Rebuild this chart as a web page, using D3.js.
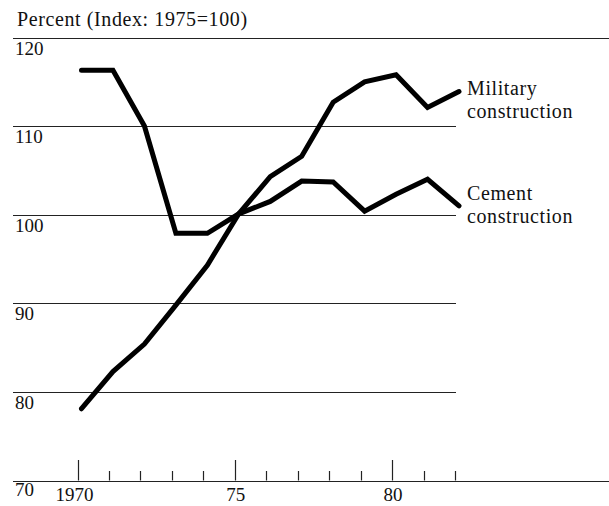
<!DOCTYPE html>
<html>
<head>
<meta charset="utf-8">
<script src="https://cdn.jsdelivr.net/npm/d3@7"></script>
<style>
    body { margin: 0; background: #fff; }
    svg { display: block; }
    text { font-family: "Liberation Serif", "Times New Roman", serif; fill: #111; }
</style>
</head>
<body>
<script>
//wrap everything in a self-executing anonymous function to move to local scope
(function(){

    //chart data
    var years = [1970, 1971, 1972, 1973, 1974, 1975, 1976, 1977, 1978, 1979, 1980, 1981, 1982];
    var military = [78.1, 82.3, 85.4, 89.8, 94.3, 100.1, 104.3, 106.6, 112.7, 115.0, 115.8, 112.1, 113.9];
    var cement = [116.3, 116.3, 110.0, 97.9, 97.9, 100.1, 101.5, 103.8, 103.7, 100.4, 102.3, 104.0, 101.0];
    var yTicks = [120, 110, 100, 90, 80, 70];
    var xLabels = {1970: "1970", 1975: "75", 1980: "80"};
    var seriesNames = [["Military", "construction"], ["Cement", "construction"]];

    setChart();

    function setChart(){
        //frame dimensions
        var width = 609,
            height = 506;

        var svg = d3.select("body")
            .append("svg")
            .attr("width", width)
            .attr("height", height);

        //scales
        var x = d3.scaleLinear()
            .domain([1970, 1982])
            .range([77.5, 455]);

        var y = d3.scaleLinear()
            .domain([70, 120])
            .range([480.5, 37.5]);

        //title
        svg.append("text")
            .attr("x", 17)
            .attr("y", 26)
            .style("font-size", "20px")
            .style("letter-spacing", "0.6px")
            .text("Percent (Index: 1975=100)");

        //horizontal rules, top one and the base run the full width
        svg.selectAll(".grid")
            .data(yTicks)
            .enter()
            .append("line")
            .attr("class", "grid")
            .attr("x1", 13)
            .attr("x2", function(d){ return (d == 120 || d == 70) ? width : 456; })
            .attr("y1", function(d){ return Math.round(y(d)) + 0.5; })
            .attr("y2", function(d){ return Math.round(y(d)) + 0.5; })
            .style("stroke", "#222")
            .style("stroke-width", 1.2);

        //y labels sit just under their rule
        svg.selectAll(".ylab")
            .data(yTicks)
            .enter()
            .append("text")
            .attr("class", "ylab")
            .attr("x", 15)
            .attr("y", function(d){ return y(d) + (d == 70 ? 15 : 17); })
            .style("font-size", "19px")
            .text(function(d){ return d; });

        //year ticks, taller every five years
        svg.selectAll(".xtick")
            .data(years)
            .enter()
            .append("line")
            .attr("class", "xtick")
            .attr("x1", function(d){ return Math.round(x(d)) + 0.5; })
            .attr("x2", function(d){ return Math.round(x(d)) + 0.5; })
            .attr("y1", function(d){ return d % 5 == 0 ? 460 : 471; })
            .attr("y2", y(70))
            .style("stroke", "#222")
            .style("stroke-width", 1.2);

        svg.selectAll(".xlab")
            .data(years.filter(function(d){ return xLabels[d]; }))
            .enter()
            .append("text")
            .attr("class", "xlab")
            .attr("x", function(d){ return x(d) - (d == 1970 ? 3 : -1); })
            .attr("y", 501)
            .attr("text-anchor", "middle")
            .style("font-size", "19px")
            .text(function(d){ return xLabels[d]; });

        //the two series
        var line = d3.line()
            .x(function(d, i){ return x(years[i]); })
            .y(function(d){ return y(d); });

        var lines = svg.append("g")
            .attr("transform", "translate(4,0)");

        lines.selectAll(".series")
            .data([military, cement])
            .enter()
            .append("path")
            .attr("class", "series")
            .attr("d", line)
            .style("fill", "none")
            .style("stroke", "#000")
            .style("stroke-width", 5)
            .style("stroke-linecap", "round")
            .style("stroke-linejoin", "miter");

        //series labels at the right end of each line
        var labelTop = [95, 200];
        seriesNames.forEach(function(name, k){
            var label = svg.append("text")
                .attr("x", 467)
                .attr("y", labelTop[k])
                .style("font-size", "20px")
                .style("letter-spacing", "0.6px");
            label.append("tspan").attr("x", 467).text(name[0]);
            label.append("tspan").attr("x", 467).attr("dy", 23).text(name[1]);
        });
    };

})();
</script>
</body>
</html>
